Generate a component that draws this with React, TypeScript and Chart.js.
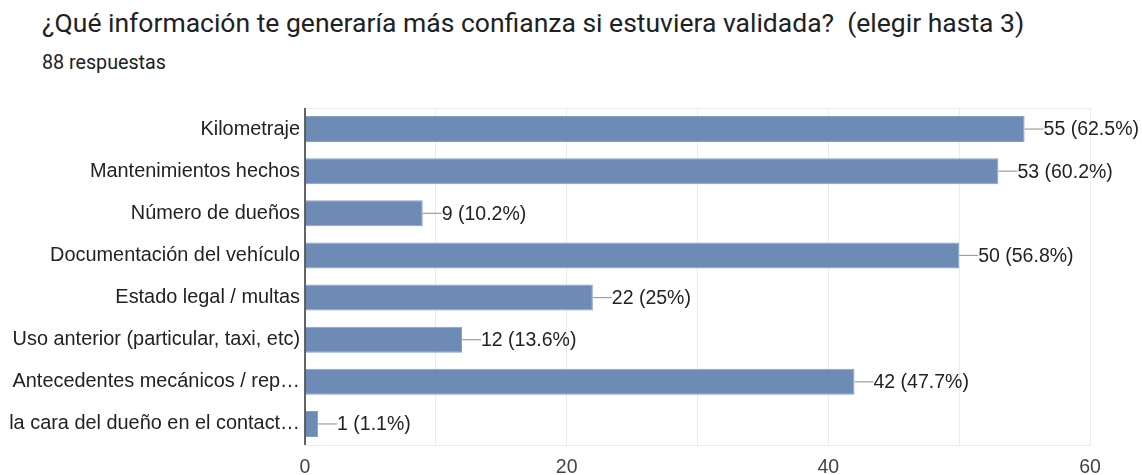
import React, { useEffect, useRef } from "react";
import { Chart, registerables } from "chart.js";

Chart.register(...registerables);

const TITLE = "¿Qué información te generaría más confianza si estuviera validada?  (elegir hasta 3)";
const SUBTITLE = "88 respuestas";
const categories = [
  "Kilometraje",
  "Mantenimientos hechos",
  "Número de dueños",
  "Documentación del vehículo",
  "Estado legal / multas",
  "Uso anterior (particular, taxi, etc)",
  "Antecedentes mecánicos / rep…",
  "la cara del dueño en el contact…",
];
const counts = [55, 53, 9, 50, 22, 12, 42, 1];
const percents = ["62.5%", "60.2%", "10.2%", "56.8%", "25%", "13.6%", "47.7%", "1.1%"];
const xTicks = [0, 20, 40, 60];

const FONT = "'Liberation Sans', Arial, sans-serif";
const FS = 19.5;
const FS_Y = 19.9;

const frame = {
  id: "frame",
  beforeDatasetsDraw(chart: any) {
    const { ctx, chartArea: a } = chart;
    ctx.save();
    ctx.strokeStyle = "#ebebeb";
    ctx.lineWidth = 1;
    ctx.beginPath();
    ctx.moveTo(a.left, a.top + 0.5);
    ctx.lineTo(a.right, a.top + 0.5);
    ctx.stroke();
    ctx.restore();
  },
  afterDatasetsDraw(chart: any) {
    const { ctx } = chart;
    const meta = chart.getDatasetMeta(0);
    ctx.save();
    ctx.font = `${FS}px ${FONT}`;
    ctx.textBaseline = "middle";
    ctx.textAlign = "left";
    meta.data.forEach((bar: any, i: number) => {
      const x = bar.x;
      const y = bar.y;
      ctx.strokeStyle = "#9e9e9e";
      ctx.lineWidth = 1.2;
      ctx.beginPath();
      ctx.moveTo(x, y);
      ctx.lineTo(x + 19, y);
      ctx.stroke();
      ctx.fillStyle = "#222222";
      ctx.fillText(`${counts[i]} (${percents[i]})`, x + 19, y + 1);
    });
    const a = chart.chartArea;
    ctx.strokeStyle = "#333333";
    ctx.lineWidth = 1.5;
    ctx.beginPath();
    ctx.moveTo(a.left, a.top);
    ctx.lineTo(a.left, a.bottom);
    ctx.stroke();
    ctx.restore();
  },
};

export default function App() {
  const ref = useRef<HTMLCanvasElement>(null);
  useEffect(() => {
    const chart = new Chart(ref.current!, {
      type: "bar",
      data: {
        labels: categories,
        datasets: [
          {
            data: counts,
            backgroundColor: "#6d8bb4",
            borderColor: "#86a0c4",
            borderWidth: 1,
            barPercentage: 0.62,
            categoryPercentage: 1,
          },
        ],
      },
      options: {
        indexAxis: "y",
        animation: false,
        responsive: false,
        maintainAspectRatio: false,
        layout: { padding: { top: 108, right: 52, left: 0, bottom: 0 } },
        plugins: { legend: { display: false }, tooltip: { enabled: false } },
        scales: {
          x: {
            min: 0,
            max: 60,
            ticks: {
              stepSize: 10,
              autoSkip: false,
              maxRotation: 0,
              color: "#444444",
              font: { family: FONT, size: FS },
              padding: 11,
              callback: (v: any) => (xTicks.includes(Number(v)) ? String(v) : ""),
            },
            grid: { color: "#ebebeb", lineWidth: 1, drawTicks: false },
            border: { color: "#ebebeb", width: 1 },
            afterFit: (s: any) => {
              s.height = 30;
            },
          },
          y: {
            ticks: {
              color: "#222222",
              font: { family: FONT, size: FS_Y },
              padding: 5,
              autoSkip: false,
            },
            grid: { display: false, drawTicks: false },
            border: { display: false },
            afterFit: (s: any) => {
              s.width = 305;
            },
          },
        },
      },
      plugins: [frame],
    });
    return () => chart.destroy();
  }, []);
  return (
    <div style={{ position: "absolute", left: 0, top: 0, width: 1142, height: 475, background: "#fff" }}>
      <div
        style={{
          position: "absolute",
          left: 42,
          top: 7,
          fontFamily: "Roboto, sans-serif",
          fontSize: 26.5,
          color: "#202124",
          whiteSpace: "pre",
          lineHeight: 1.2,
        }}
      >
        {TITLE}
      </div>
      <div
        style={{
          position: "absolute",
          left: 42,
          top: 51,
          fontFamily: "Roboto, sans-serif",
          fontSize: 19.7,
          color: "#202124",
          lineHeight: 1.2,
        }}
      >
        {SUBTITLE}
      </div>
      <canvas ref={ref} width={1142} height={475} style={{ position: "absolute", left: 0, top: 0 }} />
    </div>
  );
}
